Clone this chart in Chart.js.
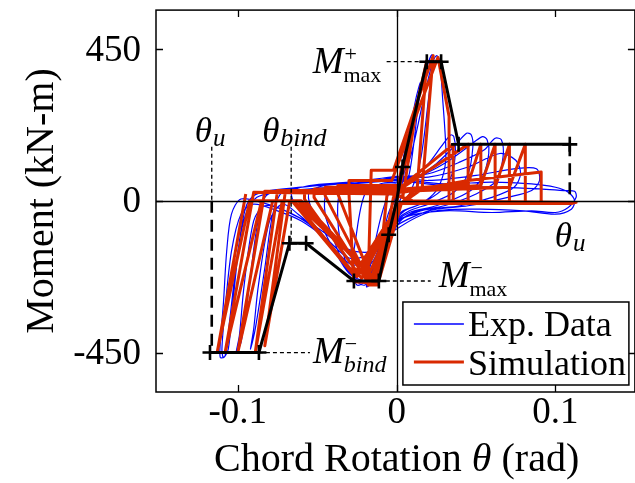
<!DOCTYPE html>
<html><head><meta charset="utf-8">
<script src="https://cdn.jsdelivr.net/npm/chart.js@4.4.1/dist/chart.umd.min.js"></script>
<style>
html,body{margin:0;padding:0;background:#fff;overflow:hidden;width:635px;height:483px}
canvas{display:block}
</style></head>
<body>
<canvas id="c" width="645" height="483" style="width:645px;height:483px"></canvas>
<script>
// ---------- tick labels ----------
const xTicks = [-0.1, 0, 0.1];
const yTicks = [-450, 0, 450];

// ---------- experimental data (theta rad, moment kN-m) ----------
const expElastic = [
 [[0,0],[0.002,60],[0.004,110],[0.003,70],[0,5],[-0.002,-40],[-0.004,-90],[-0.003,-60],[0,0]],
 [[0,0],[0.004,120],[0.008,210],[0.009,230],[0.007,150],[0.003,40],[0,0],[-0.004,-80],[-0.008,-160],[-0.009,-175],[-0.007,-110],[-0.003,-20],[0,10]],
 [[0,10],[0.006,150],[0.012,300],[0.015,350],[0.013,260],[0.008,80],[0.002,0],[-0.004,-60],[-0.01,-190],[-0.013,-235],[-0.011,-180],[-0.006,-50],[0,20]]
];
const expPeak = [
 [[0,20],[0.008,170],[0.015,330],[0.02,410],[0.022,432],[0.023,425],[0.02,300],[0.015,120],[0.008,20],[0,-20],[-0.006,-80],[-0.012,-200],[-0.017,-250],[-0.019,-255],[-0.016,-180],[-0.01,-50],[-0.004,30],[0,40]],
 [[0,40],[0.008,120],[0.016,280],[0.022,400],[0.025,430],[0.027,415],[0.029,300],[0.031,150],[0.03,90],[0.025,30],[0.015,-10],[0.004,-30],[-0.004,-70],[-0.012,-170],[-0.02,-240],[-0.025,-250],[-0.028,-210],[-0.026,-120],[-0.02,20],[-0.01,50],[0,55]]
];
const expSoftening = [
 [[0,55],[0.01,70],[0.02,110],[0.028,160],[0.034,195],[0.036,190],[0.037,150],[0.035,80],[0.028,30],[0.015,-10],[0.005,-30],[-0.004,-80],[-0.012,-200],[-0.02,-250],[-0.027,-230],[-0.034,-150],[-0.037,-60],[-0.036,20],[-0.03,45],[-0.015,55],[0,60]],
 [[0,60],[0.012,70],[0.025,110],[0.036,160],[0.044,200],[0.047,195],[0.048,160],[0.045,80],[0.036,25],[0.02,-10],[0.008,-30],[-0.003,-70],[-0.01,-170],[-0.017,-230],[-0.024,-240],[-0.033,-190],[-0.04,-110],[-0.045,-40],[-0.044,25],[-0.035,45],[-0.015,55],[0,65]],
 [[0,65],[0.015,75],[0.03,110],[0.045,160],[0.054,190],[0.057,180],[0.058,140],[0.054,70],[0.045,25],[0.025,-15],[0.008,-35],[-0.004,-80],[-0.012,-180],[-0.02,-235],[-0.03,-215],[-0.04,-140],[-0.048,-70],[-0.054,-20],[-0.055,25],[-0.045,45],[-0.02,55],[0,70]],
 [[0,70],[0.02,80],[0.04,115],[0.055,150],[0.062,185],[0.066,180],[0.067,130],[0.063,60],[0.05,20],[0.03,-15],[0.01,-35],[-0.005,-90],[-0.013,-190],[-0.022,-225],[-0.033,-190],[-0.045,-110],[-0.056,-50],[-0.064,-10],[-0.066,25],[-0.055,45],[-0.03,55],[0,72]]
];
const expBinding = [
 [[0,72],[0.02,70],[0.045,100],[0.065,140],[0.075,120],[0.078,80],[0.074,40],[0.06,10],[0.04,-15],[0.015,-30],[-0.005,-80],[-0.015,-180],[-0.025,-215],[-0.036,-170],[-0.05,-90],[-0.062,-40],[-0.072,-10],[-0.08,-60],[-0.087,-250],[-0.09,-380],[-0.092,-440],[-0.089,-380],[-0.083,-200],[-0.078,-40],[-0.072,25],[-0.05,45],[-0.02,55],[0,70]],
 [[0,70],[0.02,60],[0.05,75],[0.075,95],[0.088,95],[0.09,60],[0.085,30],[0.07,10],[0.045,-15],[0.02,-30],[-0.005,-90],[-0.016,-170],[-0.028,-190],[-0.04,-140],[-0.055,-70],[-0.07,-30],[-0.083,-15],[-0.09,-60],[-0.096,-250],[-0.099,-400],[-0.101,-450],[-0.098,-420],[-0.093,-260],[-0.088,-80],[-0.083,10],[-0.075,30],[-0.05,45],[-0.02,55],[0,65]],
 [[0,65],[0.03,50],[0.06,55],[0.085,50],[0.1,40],[0.108,25],[0.112,0],[0.11,-25],[0.1,-40],[0.08,-30],[0.05,-25],[0.02,-35],[-0.005,-100],[-0.018,-160],[-0.03,-170],[-0.045,-110],[-0.06,-60],[-0.075,-30],[-0.09,-10],[-0.098,-40],[-0.104,-150],[-0.108,-320],[-0.11,-440],[-0.109,-465],[-0.106,-440],[-0.103,-300],[-0.099,-120],[-0.095,-20],[-0.09,15],[-0.08,30],[-0.05,45],[-0.02,55],[0,60]],
 [[0,60],[0.03,45],[0.06,40],[0.09,35],[0.105,30],[0.112,28],[0.113,10],[0.108,-20],[0.1,-35],[0.085,-30],[0.06,-35],[0.03,-30],[0.005,-50],[-0.005,-110],[-0.015,-150],[-0.03,-145],[-0.05,-80],[-0.07,-30],[-0.085,-5],[-0.098,5],[-0.104,-40],[-0.107,-150],[-0.109,-300],[-0.111,-420],[-0.111,-465],[-0.108,-460],[-0.105,-350],[-0.1,-150],[-0.095,-40],[-0.088,10],[-0.075,25],[-0.04,40],[0,50]]
];

// ---------- simulation data ----------
const simElastic = [
 [[0,0],[0.003,100],[0.0005,5],[-0.005,-100],[0,0]],
 [[0,0],[0.012,260],[0.004,15],[-0.002,10],[-0.012,-245],[-0.006,20],[0,20]],
 [[0,20],[0.019,415],[0.013,40],[0.003,-8],[-0.012,-250],[-0.018,-250],[-0.016,90],[-0.002,90]]
];
const simPeak = [
 [[-0.002,90],[0.023,430],[0.016,35],[0.003,-8],[-0.013,-245],[-0.027,-240],[-0.03,20],[-0.03,60],[-0.003,60]],
 [[-0.003,60],[0.026,425],[0.033,250],[0.033,-8],[0.002,-8],[-0.015,-245],[-0.037,20],[-0.037,45],[-0.003,45]]
];
const simSoftening = [
 [[-0.003,45],[0.004,45],[0.0356,167],[0.0356,-8],[0.002,-8],[-0.017,-240],[-0.045,15],[-0.045,40],[-0.003,40]],
 [[-0.003,40],[0.004,40],[0.045,167],[0.045,-8],[0.002,-8],[-0.019,-235],[-0.052,10],[-0.052,35],[-0.003,35]],
 [[-0.003,35],[0.004,35],[0.045,50],[0.053,167],[0.053,-8],[0.002,-8],[-0.022,-230],[-0.058,5],[-0.058,30],[-0.003,30]]
];
const simBinding = [
 [[-0.003,30],[0.004,30],[0.053,45],[0.062,167],[0.062,-8],[0.002,-8],[-0.025,-225],[-0.065,0],[-0.0675,-5],[-0.083,-430],[-0.07,30],[-0.003,30]],
 [[-0.003,30],[0.004,30],[0.062,40],[0.071,167],[0.071,-8],[0.002,-8],[-0.027,-220],[-0.066,0],[-0.072,0],[-0.089,-450],[-0.075,30],[-0.003,28]],
 [[-0.003,28],[0.004,28],[0.071,40],[0.081,167],[0.081,-8],[0.002,-8],[-0.013,-235],[-0.06,0],[-0.078,0],[-0.1,-450],[-0.083,28],[-0.003,25]],
 [[-0.003,25],[0.004,25],[0.045,60],[0.091,85],[0.091,-8],[0.002,-8],[-0.015,-230],[-0.062,0],[-0.085,0],[-0.108,-450],[-0.09,25],[-0.003,20]],
 [[-0.003,20],[0.01,0],[0.113,-5],[0.11,-8],[0.002,-8],[-0.02,-200],[-0.065,0],[-0.0925,0],[-0.113,-450],[-0.095,20]]
];

// ---------- backbone (multi-linear envelope) ----------
const backboneTheta  = [-0.1175,-0.0867,-0.0675,-0.057,-0.0269,-0.0112,-0.005,0,0.0037,0.019,0.028,0.039,0.109];
const backboneMoment = [-450,-450,-126,-126,-238,-238,-101,0,100,412,412,167,167];

// ---------- annotation values ----------
const thetaU = [-0.1164, 0.109];
const thetaBind = -0.0664;
const mMaxPos = 412, mMaxNeg = -238, mBindNeg = -450, mResidual = 167, mBindTheta = -0.0867, mMaxNegTheta = -0.0112, mMaxPosTheta = 0.019;

function toPts(...groups){
  const out=[];
  groups.forEach(g=>g.forEach(c=>c.forEach(p=>out.push({x:p[0],y:p[1]}))));
  return out;
}
const backbonePts = backboneTheta.map((t,i)=>({x:t,y:backboneMoment[i]}));

const SERIF = '"Liberation Serif","Times New Roman",serif';
const RED = '#d92900', BLUE = '#0000ff';

const decor = {
  id:'decor',
  afterDatasetDraw(chart, args){
    if(args.index!==1) return;
    const ctx=chart.ctx, a=chart.chartArea, X=v=>chart.scales.x.getPixelForValue(v), Y=v=>chart.scales.y.getPixelForValue(v);
    ctx.save();
    ctx.strokeStyle='#000'; ctx.lineWidth=1.3;
    ctx.beginPath();
    ctx.moveTo(a.left, Math.round(Y(0))+0.5); ctx.lineTo(a.right, Math.round(Y(0))+0.5);
    ctx.moveTo(Math.round(X(0))+0.5, a.top); ctx.lineTo(Math.round(X(0))+0.5, a.bottom);
    ctx.stroke();
    ctx.restore();
  },
  afterDraw(chart){
    const ctx=chart.ctx, a=chart.chartArea, X=v=>chart.scales.x.getPixelForValue(v), Y=v=>chart.scales.y.getPixelForValue(v);
    ctx.save();
    // frame
    ctx.strokeStyle='#000'; ctx.lineWidth=1.5;
    ctx.strokeRect(a.left, a.top, a.right-a.left, a.bottom-a.top);
    // inward ticks
    ctx.lineWidth=1.3;
    ctx.beginPath();
    xTicks.forEach(v=>{ const x=Math.round(X(v))+0.5; ctx.moveTo(x,a.bottom); ctx.lineTo(x,a.bottom-7); ctx.moveTo(x,a.top); ctx.lineTo(x,a.top+7); });
    yTicks.forEach(v=>{ const y=Math.round(Y(v))+0.5; ctx.moveTo(a.left,y); ctx.lineTo(a.left+7,y); ctx.moveTo(a.right,y); ctx.lineTo(a.right-7,y); });
    ctx.stroke();
    // tick labels
    ctx.fillStyle='#000';
    ctx.font='37px '+SERIF;
    ctx.textAlign='right'; ctx.textBaseline='middle';
    yTicks.forEach(v=>ctx.fillText(String(v), a.left-15, Y(v)+2));
    ctx.textAlign='center';
    xTicks.forEach(v=>ctx.fillText(String(v), X(v), a.bottom+21));
    // axis titles
    ctx.textBaseline='alphabetic';
    ctx.save();
    ctx.translate(a.left-103, (a.top+a.bottom)/2);
    ctx.rotate(-Math.PI/2);
    ctx.font='40px '+SERIF; ctx.textAlign='center';
    ctx.fillText('Moment (kN-m)',0,0);
    ctx.restore();
    // x title with italic theta
    const parts=[['Chord Rotation ','40px '+SERIF],['\u03B8','italic 40px '+SERIF],[' (rad)','40px '+SERIF]];
    let tw=0; parts.forEach(p=>{ctx.font=p[1]; tw+=ctx.measureText(p[0]).width;});
    let cx=X(0)-tw/2; ctx.textAlign='left';
    parts.forEach(p=>{ctx.font=p[1]; ctx.fillText(p[0],cx,a.bottom+79); cx+=ctx.measureText(p[0]).width;});

    // dashed guide lines
    const thin=[4,3], thick=[12,7];
    function dash(x1,y1,x2,y2,w,pat){ ctx.save(); ctx.lineWidth=w; ctx.setLineDash(pat); ctx.beginPath(); ctx.moveTo(x1,y1); ctx.lineTo(x2,y2); ctx.stroke(); ctx.restore(); }
    const yTop=Y(0)-54;
    dash(X(thetaU[0]), yTop, X(thetaU[0]), Y(0), 1.3, thin);
    dash(X(thetaU[0]), Y(0), X(thetaU[0]), Y(mBindNeg), 2.6, thick);
    dash(X(thetaBind), yTop, X(thetaBind), Y(-126), 1.3, thin);
    dash(X(thetaU[1]), Y(mResidual), X(thetaU[1]), Y(0), 2.6, thick);
    dash(X(0)-10, Y(mMaxPos), X(mMaxPosTheta), Y(mMaxPos), 1.3, thin);
    dash(X(mMaxNegTheta), Y(mMaxNeg), X(0)+34, Y(mMaxNeg), 1.3, thin);
    dash(X(mBindTheta), Y(mBindNeg), X(mBindTheta)+51, Y(mBindNeg), 1.3, thin);

    // labels
    function mLabel(x,y,sup,sub,subItalic){
      ctx.textAlign='left'; ctx.textBaseline='alphabetic';
      ctx.font='italic 37px '+SERIF; ctx.fillText('M',x,y);
      const w=ctx.measureText('M').width;
      ctx.font='22px '+SERIF; ctx.fillText(sup,x+w+1,y-12);
      ctx.font=(subItalic?'italic 24px ':'22px ')+SERIF; ctx.fillText(sub,x+w,y+9);
    }
    function thLabel(x,y,sub,size){
      ctx.textAlign='left'; ctx.textBaseline='alphabetic';
      ctx.font='italic 35px '+SERIF; ctx.fillText('\u03B8',x,y);
      const w=ctx.measureText('\u03B8').width;
      ctx.font='italic '+size+'px '+SERIF; ctx.fillText(sub,x+w+1,y+4);
    }
    mLabel(X(0)-84, Y(mMaxPos)+11, '+', 'max', false);
    mLabel(X(0)+42, Y(mMaxNeg)+6, '\u2212', 'max', false);
    mLabel(X(mBindTheta)+54, Y(mBindNeg)+10, '\u2212', 'bind', true);
    thLabel(X(thetaU[0])-17, yTop-5, 'u', 25);
    thLabel(X(thetaBind)-29, yTop-5, 'bind', 26);
    thLabel(X(thetaU[1])-15, Y(0)+46, 'u', 25);

    // legend
    const lx=a.right-232, ly=a.bottom-90, lw=226, lh=83;
    ctx.fillStyle='#fff'; ctx.fillRect(lx,ly,lw,lh);
    ctx.strokeStyle='#000'; ctx.lineWidth=1.5; ctx.strokeRect(lx,ly,lw,lh);
    ctx.lineWidth=1.6; ctx.strokeStyle=BLUE; ctx.beginPath(); ctx.moveTo(lx+11,ly+22); ctx.lineTo(lx+61,ly+22); ctx.stroke();
    ctx.lineWidth=3; ctx.strokeStyle=RED; ctx.beginPath(); ctx.moveTo(lx+11,ly+60); ctx.lineTo(lx+61,ly+60); ctx.stroke();
    ctx.fillStyle='#000'; ctx.font='36px '+SERIF; ctx.textAlign='left'; ctx.textBaseline='alphabetic';
    ctx.fillText('Exp. Data', lx+65, ly+34);
    ctx.fillText('Simulation', lx+65, ly+73);
    ctx.restore();
  }
};

new Chart(document.getElementById('c'), {
  type:'scatter',
  data:{datasets:[
    {label:'Exp. Data', data:toPts(expElastic,expPeak,expSoftening,expBinding), showLine:true, borderColor:BLUE, borderWidth:1.2, pointRadius:0, tension:0.3, order:3},
    {label:'Simulation', data:toPts(simElastic,simPeak,simSoftening,simBinding), showLine:true, borderColor:RED, borderWidth:3, pointRadius:0, tension:0, order:2, borderJoinStyle:'round'},
    {label:'Backbone', data:backbonePts, showLine:true, borderColor:'#000', borderWidth:3, tension:0, order:1,
     pointStyle:'cross', pointRadius:ctx=>(ctx.raw && ctx.raw.x===0 ? 0 : 7.5), pointBorderWidth:2.6, pointBorderColor:'#000', pointBackgroundColor:'#000'}
  ]},
  options:{
    responsive:false, animation:false, devicePixelRatio:1, events:[],
    layout:{padding:{left:156,top:10,right:8,bottom:91}},
    scales:{
      x:{type:'linear', min:-0.1515, max:0.15, display:false},
      y:{type:'linear', min:-567, max:565, display:false}
    },
    plugins:{legend:{display:false}, tooltip:{enabled:false}}
  },
  plugins:[decor]
});
</script>
</body></html>
